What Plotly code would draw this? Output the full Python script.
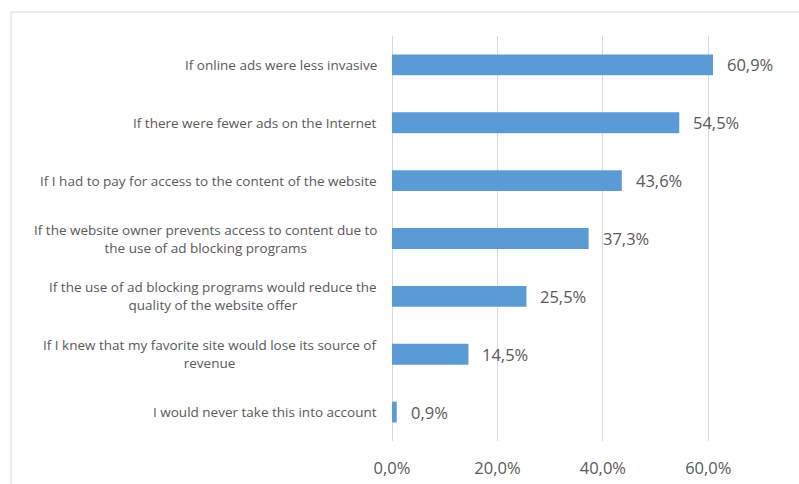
import plotly.graph_objects as go

categories = [
    "If online ads were less invasive",
    "If there were fewer ads on the Internet",
    "If I had to pay for access to the content of the website",
    "If the website owner prevents access to content due to<br>the use of ad blocking programs",
    "If the use of ad blocking programs would reduce the<br>quality of the website offer",
    "If I knew that my favorite site would lose its source of<br>revenue",
    "I would never take this into account",
]
values = [0.609, 0.545, 0.436, 0.373, 0.255, 0.145, 0.009]
tick_vals = [0.0, 0.2, 0.4, 0.6]
tick_text = ["0,0%", "20,0%", "40,0%", "60,0%"]

W, H = 799, 484
ML, MR, MT, MB = 392, 38, 36, 43
PW, PH = W - ML - MR, H - MT - MB

def fmt(v):
    return f"{v*100:.1f}%".replace(".", ",")

fig = go.Figure()
fig.add_trace(go.Bar(
    x=values, y=categories, orientation="h",
    marker=dict(color="#5B9BD5", line=dict(width=0)),
    width=0.36, hoverinfo="skip",
))

annotations = []
for c, v in zip(categories, values):
    annotations.append(dict(
        x=v, y=c, xref="x", yref="y", text=fmt(v), showarrow=False,
        xanchor="left", xshift=12,
        font=dict(family="Open Sans", size=16.5, color="#595959"),
    ))
    annotations.append(dict(
        x=0, y=c, xref="paper", yref="y", text=c, showarrow=False,
        xanchor="right", xshift=-13, align="center",
        font=dict(family="Open Sans", size=13.5, color="#595959"),
    ))

# chart area border (top and left edges visible)
bx0 = (11 - ML) / PW
by0 = (H - MB - 12) / PH
shapes = [
    dict(type="line", xref="paper", yref="paper", x0=bx0, x1=(W - ML) / PW, y0=by0, y1=by0,
         line=dict(color="#d9d9d9", width=1)),
    dict(type="line", xref="paper", yref="paper", x0=bx0, x1=bx0, y0=by0, y1=(H - MB - H) / PH,
         line=dict(color="#d9d9d9", width=1)),
]

fig.update_layout(
    width=W, height=H,
    margin=dict(l=ML, r=MR, t=MT, b=MB),
    paper_bgcolor="white", plot_bgcolor="white",
    showlegend=False,
    annotations=annotations,
    shapes=shapes,
    xaxis=dict(
        range=[0, 0.7], tickvals=tick_vals, ticktext=tick_text,
        showgrid=True, gridcolor="#d9d9d9", gridwidth=1,
        zeroline=True, zerolinecolor="#d9d9d9", zerolinewidth=1,
        showline=False, ticks="outside", ticklen=12, tickcolor="rgba(0,0,0,0)",
        tickfont=dict(family="Open Sans", size=16.5, color="#595959"),
        fixedrange=True, automargin=False,
    ),
    yaxis=dict(
        autorange="reversed", showticklabels=False, showgrid=False,
        zeroline=False, showline=False, fixedrange=True, automargin=False,
    ),
)

fig.write_html("out.html")
